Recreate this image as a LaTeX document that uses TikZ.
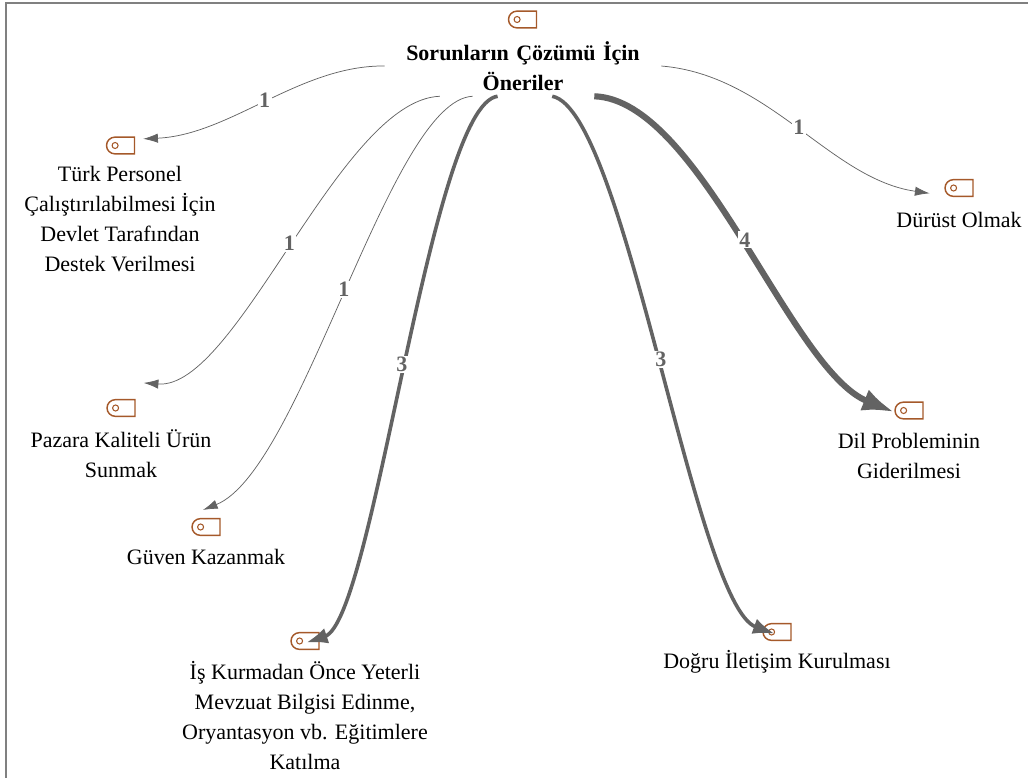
\documentclass[tikz,border=0pt]{standalone}
\usepackage{fontspec}
\setmainfont{Liberation Serif}
\usetikzlibrary{arrows.meta}
\usetikzlibrary{shapes.misc}

\begin{document}
\begin{tikzpicture}[
    x=0.75pt,y=-0.75pt,
    font=\fontsize{16.5}{22.5}\selectfont
]
\tikzset{
    tagbox/.style = {rounded rectangle, rounded rectangle right arc=none, draw=tagbrown, line width=1.1pt, minimum width=21pt, minimum height=12.5pt, inner sep=0pt},
    tagdot/.style = {circle, draw=tagbrown, line width=0.8pt, minimum size=4.5pt, inner sep=0pt},
    mytext/.style = {align=center, inner sep=0pt},
    count/.style = {fill=white, inner sep=1pt, font=\fontsize{16.5}{18}\selectfont\bfseries},
    edgeone/.style = {-{Latex[length=11pt,width=7pt]}, line width=0.55pt, edgegray},
    edgethree/.style = {-{Latex[length=16pt,width=12pt]}, line width=2.7pt, edgegray},
    edgefour/.style = {-{Latex[length=24pt,width=17pt]}, line width=4.6pt, edgegray}
}
\definecolor{tagbrown}{HTML}{A5592A}
\definecolor{edgegray}{HTML}{636363}
\newcommand{\tagicon}[2]{
    \node[tagbox] at (#2) (#1) {};
    \node[tagdot] at ([xshift=7pt]#1.west) (#1dot) {};
}
\useasboundingbox (0,0) rectangle (1028,778);
\draw[gray, line width=1.5pt] (6,3) rectangle (1060,800);

\tagicon{troot}{522.5,19.5}
\tagicon{tturk}{120.5,145.5}
\tagicon{tpazar}{121,408}
\tagicon{tguven}{206,527}
\tagicon{tisk}{305,641}
\tagicon{tdogru}{777,632}
\tagicon{tdil}{909,410.5}
\tagicon{tdurust}{959,188}

\node[mytext, minimum width=207pt, minimum height=45pt, font=\fontsize{16.5}{22.5}\selectfont\bfseries, text width=207pt] at (523,66) (root) {Sorunların Çözümü İçin\\Öneriler};
\node[mytext] at (120,219) (turk) {Türk Personel\\Çalıştırılabilmesi İçin\\Devlet Tarafından\\Destek Verilmesi};
\node[mytext] at (121,454) (pazar) {Pazara Kaliteli Ürün\\Sunmak};
\node[mytext] at (206,557) (guven) {Güven Kazanmak};
\node[mytext] at (305,716) (isk) {İş Kurmadan Önce Yeterli\\Mevzuat Bilgisi Edinme,\\Oryantasyon vb. Eğitimlere\\Katılma};
\node[mytext] at (777,662) (dogru) {Doğru İletişim Kurulması};
\node[mytext] at (909,456) (dil) {Dil Probleminin\\Giderilmesi};
\node[mytext] at (959,220) (durust) {Dürüst Olmak};

\draw[edgeone] (root.west) .. controls (300,65) and (230,135) .. node[count] {1} ([xshift=6pt,yshift=5pt]tturk.east);
\draw[edgeone] (root.200.8) .. controls (340,100) and (237,390) .. node[count] {1} ([xshift=6pt,yshift=12pt]tpazar.north east);
\draw[edgeone] (root.211) .. controls (390,100) and (302,470) .. node[count] {1} ([xshift=2pt,yshift=6pt]tguven.north west);
\draw[edgethree] (root.230.2) .. controls (430,105) and (374,620) .. node[count] {3} ([xshift=1pt,yshift=-8pt]tisk.north);
\draw[edgethree] (root.314) .. controls (625,110) and (695,605) .. node[count] {3} ([xshift=-2pt,yshift=-8pt]tdogru.north);
\draw[edgefour] (root.337.7) .. controls (700,100) and (790,370) .. node[count] {4} ([xshift=-11pt,yshift=-8pt]tdil.north);
\draw[edgeone] (root.east) .. controls (770,75) and (830,179) .. node[count] {1} ([xshift=-11pt,yshift=-4pt]tdurust.west);
\end{tikzpicture}
\end{document}
